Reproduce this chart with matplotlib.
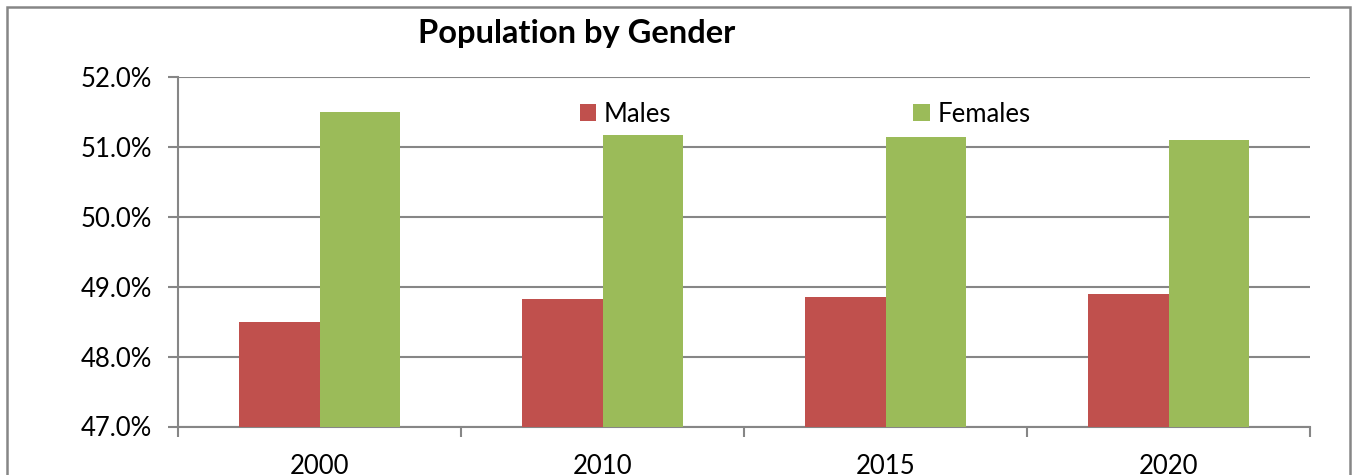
import numpy as np
import matplotlib.pyplot as plt
from matplotlib.patches import Rectangle
from matplotlib.ticker import FuncFormatter

plt.rcParams['font.family'] = ['Lato', 'DejaVu Sans']

years = ['2000', '2010', '2015', '2020']
males = [48.49, 48.82, 48.85, 48.89]
females = [51.50, 51.17, 51.14, 51.10]

red = '#C0504D'
green = '#9BBB59'
grey = '#868686'

fig = plt.figure(figsize=(13.56, 4.75), dpi=100)
ax = fig.add_axes([178/1356, 1-426.5/475, 1132/1356, 349.5/475])

# outer chart border (runs off the bottom edge)
fig.patches.append(Rectangle((7/1356, -0.2), 1343/1356, 1.2 - 7/475,
                             transform=fig.transFigure, fill=False,
                             edgecolor=grey, lw=1.8, zorder=0))

x = np.arange(len(years))
w = 0.284
ax.bar(x - w/2, np.array(males) - 47, w, bottom=47, color=red, label='Males', zorder=3)
ax.bar(x + w/2, np.array(females) - 47, w, bottom=47, color=green, label='Females', zorder=3)

ax.set_xlim(-0.5, len(years) - 0.5)
ax.set_ylim(47, 52)
ax.set_yticks(np.arange(47, 52.01, 1))
ax.yaxis.set_major_formatter(FuncFormatter(lambda v, p: f'{v:.1f}%'))
ax.yaxis.grid(True, color=grey, lw=1.5, zorder=0)

ax.set_xticks(x)
ax.set_xticklabels(years)
ax.set_xticks(np.arange(-0.5, len(years)), minor=True)
ax.tick_params(axis='x', which='major', length=0, pad=20, labelsize=18.5)
ax.tick_params(axis='x', which='minor', length=7, width=1.5, color=grey)
ax.tick_params(axis='y', length=7, width=1.5, color=grey, pad=12, labelsize=18.5)

for s in ['top', 'right']:
    ax.spines[s].set_visible(False)
for s in ['left', 'bottom']:
    ax.spines[s].set_color(grey)
    ax.spines[s].set_linewidth(1.5)

ax.legend(loc='center', bbox_to_anchor=(0.554, 0.894), ncol=2, frameon=False,
          fontsize=18.5, handlelength=0.65, handleheight=0.65,
          handletextpad=0.3, columnspacing=9.4, borderpad=0)

fig.text(577/1356, 1-43/475, 'Population by Gender', ha='center', va='baseline',
         fontsize=23.5, fontweight='bold')

fig.savefig('out.png', dpi=100)
